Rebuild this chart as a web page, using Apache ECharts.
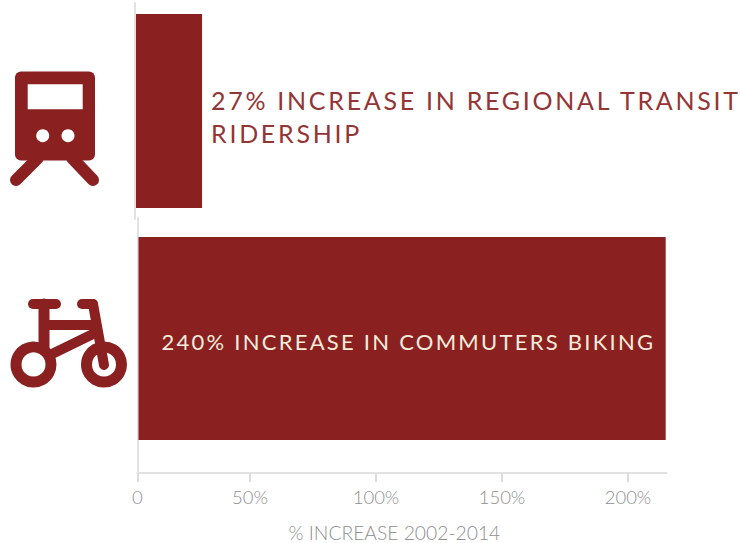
<!DOCTYPE html>
<html><head><meta charset="utf-8">
<style>
html,body{margin:0;padding:0;background:#fff}
#c{width:740px;height:543px}
text[fill="#943535"]{letter-spacing:2.72px}
text[fill="#f6ecdc"]{letter-spacing:2.25px}
</style>
<script src="https://cdn.jsdelivr.net/npm/echarts@6/dist/echarts.min.js"></script>
</head><body><div id="c"></div>
<script>
const categories = ['Regional transit ridership', 'Commuters biking'];
const increases = [31, 215];
const barLabels = ['27% INCREASE IN REGIONAL TRANSIT\nRIDERSHIP', '240% INCREASE IN COMMUTERS BIKING'];
const tickValues = [5.28, 50, 100, 150, 200];
const tickLabels = ['0', '50%', '100%', '150%', '200%'];
const axisName = '% INCREASE 2002-2014';

const RED = '#8a2020', AXIS = '#e2e2e2', TICK = '#dcdcdc', GREY = '#8f8f8f', FONT = 'Lato';
const PX = 2.52, MAXV = 215.3;
const hiddenX = (gridIndex, min) => ({type:'value', gridIndex, min, max:MAXV, show:false});
const hiddenY = (gridIndex, cat, show) => ({type:'category', gridIndex, data:[cat], inverse:true,
  axisLine:{show, lineStyle:{color:AXIS, width:2}}, offset: show ? 1 : 0, axisTick:{show:false}, axisLabel:{show:false}});

const L = (a,b,c,d,w) => ({type:'line', silent:true, shape:{x1:a,y1:b,x2:c,y2:d}, style:{stroke:RED, lineWidth:w||10, lineCap:'round'}});
const ring = (x,y) => ({type:'circle', silent:true, shape:{cx:x,cy:y,r:17.5}, style:{fill:'#fff', stroke:RED, lineWidth:11}});
const icons = [
  L(38,158,16,180,12), L(72,158,93,180,12),
  {type:'rect', silent:true, shape:{x:15,y:71.5,width:80,height:89,r:6}, style:{fill:RED}},
  {type:'rect', silent:true, shape:{x:27.7,y:84.3,width:55,height:25}, style:{fill:'#fff'}},
  {type:'circle', silent:true, shape:{cx:42.7,cy:135.7,r:6.5}, style:{fill:'#fff'}},
  {type:'circle', silent:true, shape:{cx:68,cy:135.7,r:6.5}, style:{fill:'#fff'}},
  ring(33.5,364.5), ring(104,364.5),
  L(33,304,56,304), L(82,304,93,304), L(44,304,44,348,11),
  L(44,325,94,325), L(52,354,95,333), L(93,304,104,365)
];

const chart = echarts.init(document.getElementById('c'), null, {renderer:'svg'});
chart.setOption({
  animation:false,
  backgroundColor:'#fff',
  grid:[
    {left:136, top:3, width:(MAXV-4.8)*PX, height:216},
    {left:138.5, top:219, width:(MAXV-5.8)*PX, height:239},
    {left:137.3, top:218, width:(MAXV-tickValues[0])*PX, height:256.5}
  ],
  xAxis:[
    hiddenX(0,4.8), hiddenX(1,5.8),
    {type:'value', gridIndex:2, min:tickValues[0], max:MAXV,
     name:axisName, nameLocation:'middle', nameGap:50,
     nameTextStyle:{color:GREY, fontFamily:FONT, fontSize:19.3, fontWeight:300, padding:[0,15,0,0]},
     splitLine:{show:false},
     axisLine:{show:true, lineStyle:{color:AXIS, width:2}},
     axisTick:{show:true, length:9, lineStyle:{color:TICK, width:2}, customValues:tickValues},
     axisLabel:{color:GREY, fontFamily:FONT, fontSize:18.5, fontWeight:300, margin:14,
       customValues:tickValues, formatter:v=>tickLabels[tickValues.indexOf(v)]}}
  ],
  yAxis:[
    hiddenY(0,categories[0],true), hiddenY(1,categories[1],false),
    {type:'category', gridIndex:2, data:[''], axisLine:{show:true, lineStyle:{color:AXIS, width:2}},
     axisTick:{show:false}, axisLabel:{show:false}}
  ],
  series:[
    {type:'bar', xAxisIndex:0, yAxisIndex:0, barWidth:194, itemStyle:{color:RED}, data:[increases[0]],
     label:{show:true, position:'right', distance:9, offset:[0,5], formatter:barLabels[0], align:'left',
       color:'#943535', fontFamily:FONT, fontSize:25, lineHeight:33}},
    {type:'bar', xAxisIndex:1, yAxisIndex:1, barWidth:203, itemStyle:{color:RED}, data:[increases[1]],
     label:{show:true, position:'insideLeft', distance:23, offset:[0,3], formatter:barLabels[1],
       color:'#f6ecdc', fontFamily:FONT, fontSize:22}}
  ],
  graphic:{elements:icons}
});
</script></body></html>
